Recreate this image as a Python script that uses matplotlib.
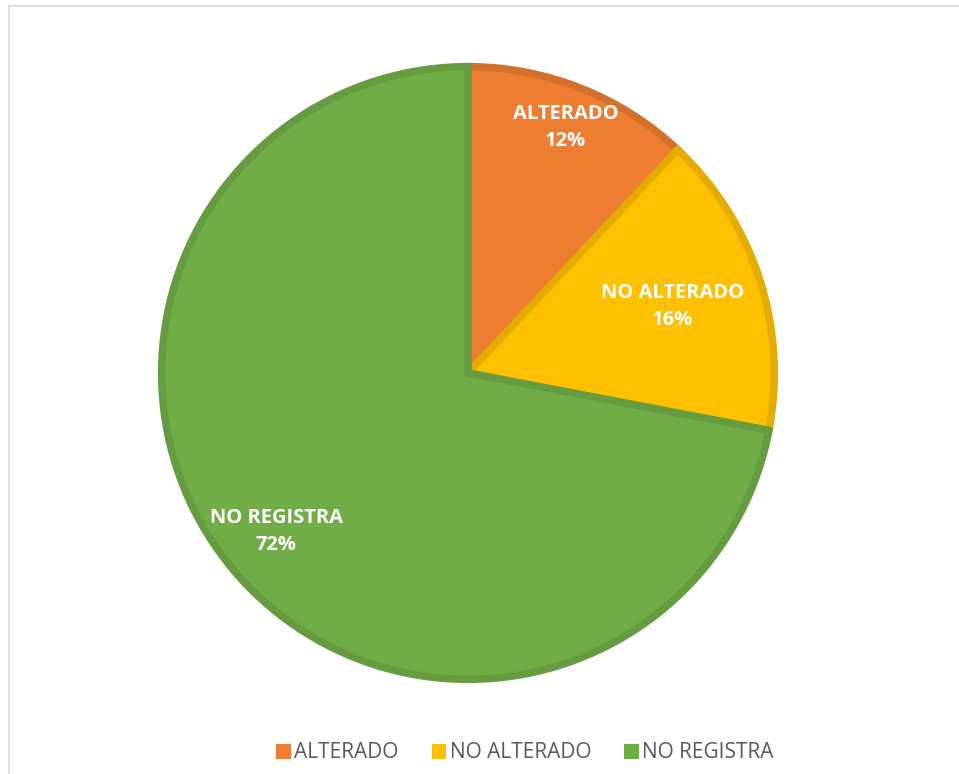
import matplotlib.pyplot as plt
import numpy as np
from matplotlib.lines import Line2D
from matplotlib.patches import Patch

# datos del grafico
etiquetas = ['ALTERADO', 'NO ALTERADO', 'NO REGISTRA']
valores = [12, 16, 72]
colores = ['#ED7D31', '#FFC000', '#70AD47']
bordes = ['#D5702B', '#E5AC00', '#659C40']
distancias = [0.85, 0.69, 0.80]

plt.rcParams['font.family'] = ['Open Sans', 'DejaVu Sans']

fig = plt.figure(figsize=(9.59, 7.74), dpi=100)

# marco gris claro del area del grafico
fig.add_artist(Line2D([8.5 / 959, 8.5 / 959], [0, 1 - 5.5 / 774], color='#D9D9D9', lw=1.2,
                      transform=fig.transFigure))
fig.add_artist(Line2D([8.5 / 959, 1], [1 - 5.5 / 774, 1 - 5.5 / 774], color='#D9D9D9', lw=1.2,
                      transform=fig.transFigure))

cx, cy, r = 468, 373, 311
ax = fig.add_axes([(cx - r) / 959, (774 - cy - r) / 774, 2 * r / 959, 2 * r / 774])

wedges, _ = ax.pie(valores, colors=colores, startangle=90, counterclock=False, radius=0.985,
                   wedgeprops=dict(linewidth=5.4, joinstyle='miter'))
for w, b in zip(wedges, bordes):
    w.set_edgecolor(b)
ax.set_xlim(-1, 1)
ax.set_ylim(-1, 1)
ax.set_aspect('equal')
ax.axis('off')

# etiquetas dentro de cada porcion
total = sum(valores)
acum = 0
for lab, v, d in zip(etiquetas, valores, distancias):
    ang = np.deg2rad(90 - (acum + v / 2) / total * 360)
    acum += v
    ax.text(d * np.cos(ang), d * np.sin(ang), f'{lab}\n{v / total * 100:.0f}%',
            ha='center', va='center', color='white', fontsize=14.5, fontweight='bold',
            linespacing=1.45)

handles = [Patch(facecolor=c, edgecolor='none') for c in colores]
fig.legend(handles, etiquetas, loc='center', bbox_to_anchor=(525 / 959, 1 - 753 / 774),
           ncol=3, frameon=False, fontsize=15, labelcolor='#595959',
           handlelength=0.7, handleheight=0.7, handletextpad=0.15, columnspacing=1.6)

fig.savefig('out.png', dpi=100)
